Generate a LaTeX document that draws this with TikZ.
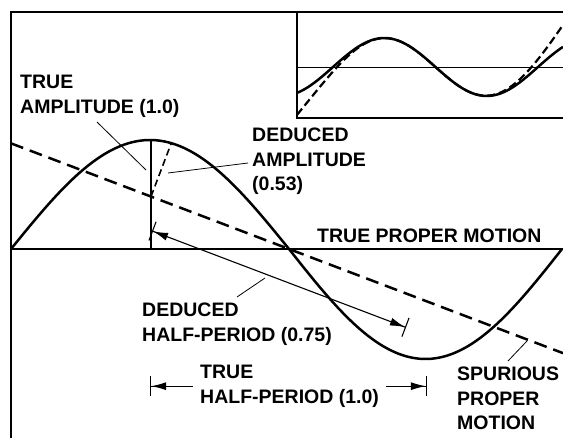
\documentclass[tikz,border=0pt]{standalone}
\usepackage{fontspec}
\setmainfont{Liberation Sans}
\usetikzlibrary{arrows.meta,calc}

\begin{document}
\begin{tikzpicture}[x=1pt, y=1pt,
    declare function={
        spur(\x)=-0.38*(\x-278);
        qq(\u)=(\u-133)/133;
        drift(\u)=22*qq(\u)*qq(\u)*qq(\u)*qq(\u)*qq(\u);
    },
    lbl/.style={font=\bfseries\fontsize{19.5}{24.5}\selectfont, align=left, inner sep=0pt},
    frameline/.style={line width=1.6pt},
    curve/.style={line width=2.5pt},
    spurline/.style={line width=2.5pt, dash pattern=on 13pt off 7pt},
    leader/.style={line width=0.8pt},
    dimarrow/.style={line width=1.1pt, {Bar[width=20pt,sep=0pt]Latex[length=15pt,width=8pt]}-{Latex[length=15pt,width=8pt]Bar[width=20pt,sep=0pt]}},
    halfarrow/.style={line width=1.1pt, -{Latex[length=15pt,width=8pt]Bar[width=20pt,sep=0pt]}}
]
    \useasboundingbox (-11,-191) rectangle (552,249);

    % Frame (left and top edges)
    \draw[frameline] (0,-189) -- (0,237) -- (552,237);

    % True proper motion (axis)
    \draw[frameline] (0,0) -- (552,0);
    \node[lbl, anchor=base west] (tpm) at (306,7) {TRUE PROPER MOTION};

    % Sine: first half-period up, second down
    \draw[curve] plot[domain=0:278, samples=70, smooth] (\x,{109*sin((\x/278)*180)})
        -- plot[domain=278:551, samples=70, smooth] (\x,{-110*sin(((\x-278)/273)*180)});

    % Spurious proper motion (dashed straight line)
    \coordinate (sl) at (0,{spur(0)});
    \coordinate (sr) at (552,{spur(552)});
    \draw[spurline] (sl) -- (sr);

    % True amplitude: vertical from axis to the peak
    \coordinate (base) at (140,0);
    \coordinate (peak) at (140,109);
    \draw[frameline] (base) -- (peak);

    % Deduced amplitude: perpendicular to the dashed line
    \coordinate (foot) at (140,{spur(140)});
    \coordinate (dtop) at ($(foot)+(69.2:57)$);
    \draw[line width=1.6pt, dash pattern=on 7pt off 4pt] (foot) -- (dtop);

    % Deduced half-period, parallel to the dashed line
    \coordinate (da) at (141,{spur(141)-34});
    \coordinate (db) at (395,{spur(395)-34});
    \draw[dimarrow] (da) -- (db);

    % True half-period, peak to trough
    \coordinate (ta) at (139,0);
    \coordinate (tb) at (416,0);
    \node[lbl, anchor=north west, inner xsep=7pt] (thp) at (182,-116) {TRUE\\HALF-PERIOD (1.0)};
    \draw[halfarrow] (thp.west) -- (thp.west -| ta);
    \draw[halfarrow] (thp.east) -- (thp.east -| tb);

    % Labels
    \node[lbl, anchor=north west] (tamp) at (9,174) {TRUE\\AMPLITUDE (1.0)};
    \node[lbl, anchor=north west] (damp) at (241,121) {DEDUCED\\AMPLITUDE\\(0.53)};
    \node[lbl, anchor=north west] (dhp) at (131,-54) {DEDUCED\\HALF-PERIOD (0.75)};
    \node[lbl, anchor=north west] (spm) at (446,-118) {SPURIOUS\\PROPER\\MOTION};

    % Leader lines
    \coordinate (tampA) at (86,127);  \coordinate (tampB) at (135,79);
    \coordinate (dampA) at (237,86);  \coordinate (dampB) at (157,76);
    \coordinate (dhpA) at (226,-48);  \coordinate (dhpB) at (254,-29);
    \coordinate (spmA) at (497,-112); \coordinate (spmB) at (516,-92);
    \draw[leader] (tampA) -- (tampB);
    \draw[leader] (dampA) -- (dampB);
    \draw[leader] (dhpA) -- (dhpB);
    \draw[leader] (spmA) -- (spmB);

    % Inset: fitted curve over the data
    \draw[frameline] (286,237) -- (286,131) -- (552,131);
    \draw[line width=1pt] (286,182) -- (552,182);
    \draw[curve] plot[domain=0:266, samples=80, smooth] ({286+\x},{182+29*sin(((\x-36)/205)*360)});
    \draw[line width=2.2pt, dash pattern=on 8pt off 4pt] plot[domain=0:266, samples=80, smooth]
        ({286+\x},{182+29*sin(((\x-36)/205)*360)+drift(\x)});
\end{tikzpicture}
\end{document}
